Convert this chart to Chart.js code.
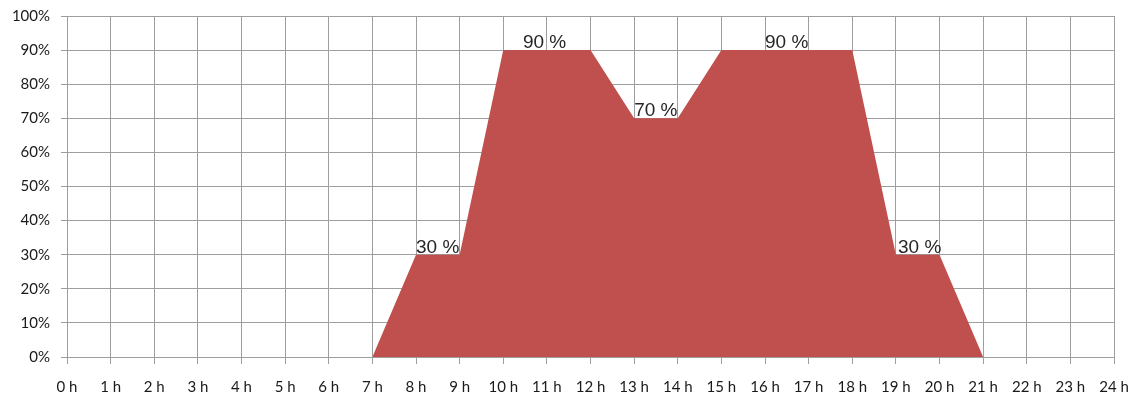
<!DOCTYPE html>
<html>
<head>
<meta charset="utf-8">
<script src="https://cdn.jsdelivr.net/npm/chart.js@4"></script>
<style>
  html, body { margin: 0; padding: 0; background: #fff; }
  #wrap { width: 1136px; height: 399px; position: relative; }
</style>
</head>
<body>
<div id="wrap"><canvas id="c"></canvas></div>
<script>
// Hourly occupancy profile (hour of day -> percent)
const hours = [7, 8, 9, 10, 12, 13, 14, 15, 18, 19, 20, 21];
const occupancy = [0, 30, 30, 90, 90, 70, 70, 90, 90, 30, 30, 0];

// Value labels: where each starts (hour) and the plateau value it states
const labelHours = [8, 10.45, 13, 16, 19.05];
const labelValues = [30, 90, 70, 90, 30];

// Axis ranges / tick steps
const xMin = 0, xMax = 24, xStep = 1;
const yMin = 0, yMax = 100, yStep = 10;

const points = hours.map((h, i) => ({ x: h, y: occupancy[i] }));

const valueLabels = {
  id: 'valueLabels',
  afterDatasetsDraw(chart) {
    const { ctx, scales } = chart;
    ctx.save();
    ctx.font = '19px "Liberation Sans", Arial, sans-serif';
    ctx.fillStyle = '#262626';
    ctx.textAlign = 'left';
    ctx.textBaseline = 'alphabetic';
    labelHours.forEach((h, i) => {
      const px = scales.x.getPixelForValue(h);
      const py = scales.y.getPixelForValue(labelValues[i]);
      ctx.fillText(labelValues[i] + ' %', px, py - 2);
    });
    ctx.restore();
  }
};

new Chart(document.getElementById('c'), {
  type: 'line',
  data: {
    datasets: [{
      data: points,
      fill: 'origin',
      backgroundColor: '#C0504D',
      borderColor: '#C0504D',
      borderWidth: 0,
      pointRadius: 0,
      tension: 0
    }]
  },
  options: {
    responsive: true,
    maintainAspectRatio: false,
    animation: false,
    layout: { padding: { top: 16, right: 22, left: 0, bottom: 0 } },
    plugins: { legend: { display: false }, tooltip: { enabled: false } },
    scales: {
      x: {
        type: 'linear',
        min: xMin, max: xMax,
        afterFit(s) { s.height = 42; s.paddingRight = 0; s.paddingLeft = 0; },
        ticks: {
          stepSize: xStep,
          padding: 14,
          color: '#1a1a1a',
          font: { family: 'Lato, "Open Sans", sans-serif', size: 15 },
          maxRotation: 0,
          callback: v => v + ' h'
        },
        grid: { color: '#9E9E9E', lineWidth: 1, tickLength: 7, drawTicks: true },
        border: { color: '#9E9E9E', width: 1 }
      },
      y: {
        min: yMin, max: yMax,
        afterFit(s) { s.width = 67; s.paddingTop = 0; s.paddingBottom = 0; },
        ticks: {
          stepSize: yStep,
          padding: 11,
          color: '#1a1a1a',
          font: { family: 'Lato, "Open Sans", sans-serif', size: 15 },
          callback: v => v + '%'
        },
        grid: { color: '#9E9E9E', lineWidth: 1, tickLength: 6, drawTicks: true },
        border: { color: '#9E9E9E', width: 1 }
      }
    }
  },
  plugins: [valueLabels]
});
</script>
</body>
</html>
